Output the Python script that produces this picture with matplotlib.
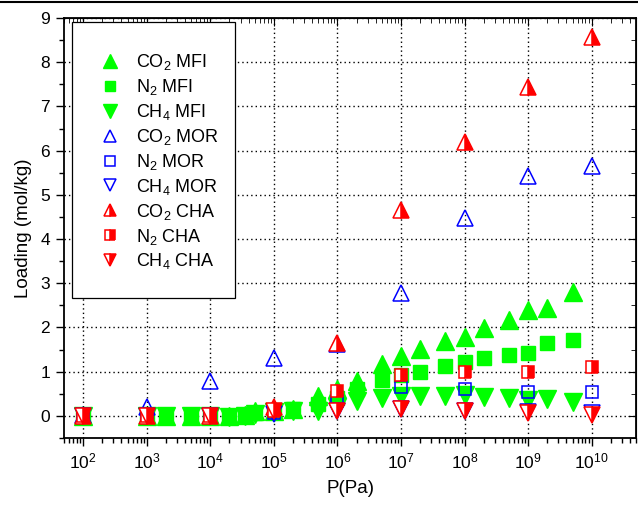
import matplotlib
matplotlib.use("Agg")
import matplotlib.pyplot as plt
from matplotlib.lines import Line2D
from matplotlib.patches import Rectangle

plt.rcParams["font.family"] = ["Liberation Sans", "DejaVu Sans"]

# MFI pressures (Pa) and loadings (mol/kg)
p_mfi = [1e2, 1e3, 2e3, 5e3, 1e4, 2e4, 3.5e4, 5e4, 1e5, 2e5, 5e5, 1e6, 2e6,
         5e6, 1e7, 2e7, 5e7, 1e8, 2e8, 5e8, 1e9, 2e9, 5e9]
co2_mfi = [0.0, 0.0, 0.0, 0.0, 0.0, 0.0, 0.03, 0.1, 0.12, 0.16, 0.45, 0.6, 0.78,
           1.17, 1.36, 1.52, 1.7, 1.78, 1.98, 2.16, 2.4, 2.43, 2.8]
n2_mfi = [0.0, 0.0, 0.0, 0.0, 0.0, 0.0, 0.02, 0.06, 0.1, 0.15, 0.27, 0.4, 0.6,
          0.81, 0.92, 0.99, 1.13, 1.23, 1.32, 1.38, 1.42, 1.65, 1.72]
ch4_mfi = [0.0, 0.0, 0.0, 0.0, 0.0, -0.02, 0.0, 0.05, 0.08, 0.12, 0.12, 0.2, 0.33,
           0.4, 0.46, 0.46, 0.45, 0.48, 0.43, 0.41, 0.35, 0.38, 0.32]

# MOR and CHA pressures (Pa)
p_dec = [1e2, 1e3, 1e4, 1e5, 1e6, 1e7, 1e8, 1e9, 1e10]
co2_mor = [0.02, 0.2, 0.8, 1.32, 1.63, 2.78, 4.48, 5.42, 5.65]
n2_mor = [0.0, 0.0, 0.0, 0.06, 0.33, 0.65, 0.6, 0.55, 0.55]
ch4_mor = [0.0, 0.0, 0.0, 0.05, 0.12, 0.15, 0.12, 0.08, 0.06]
co2_cha = [0.0, 0.0, 0.0, 0.2, 1.65, 4.65, 6.2, 7.45, 8.58]
n2_cha = [0.0, 0.0, 0.0, 0.12, 0.56, 0.93, 0.99, 0.99, 1.1]
ch4_cha = [0.0, 0.0, 0.0, 0.1, 0.1, 0.16, 0.11, 0.06, 0.03]

fig = plt.figure(figsize=(6.38, 5.05), dpi=100)
ax = fig.add_axes([0.1003, 0.1327, 0.8967, 0.8317])

green, blue, red = "#00ff00", "#0000ff", "#ff0000"

ax.plot(p_mfi, co2_mfi, ls="none", marker="^", ms=13, mfc=green, mec=green, label="CO$_\\mathregular{2}$ MFI")
ax.plot(p_mfi, n2_mfi, ls="none", marker="s", ms=10, mfc=green, mec=green, label="N$_\\mathregular{2}$ MFI")
ax.plot(p_mfi, ch4_mfi, ls="none", marker="v", ms=13, mfc=green, mec=green, label="CH$_\\mathregular{4}$ MFI")
ax.plot(p_dec, co2_mor, ls="none", marker="^", ms=12, mfc="none", mec=blue, mew=1.1, label="CO$_\\mathregular{2}$ MOR")
ax.plot(p_dec, n2_mor, ls="none", marker="s", ms=9, mfc="none", mec=blue, mew=1.1, label="N$_\\mathregular{2}$ MOR")
ax.plot(p_dec, ch4_mor, ls="none", marker="v", ms=12, mfc="none", mec=blue, mew=1.1, label="CH$_\\mathregular{4}$ MOR")
ax.plot(p_dec, co2_cha, ls="none", marker="^", ms=12, fillstyle="right", mfc=red, mfcalt="white", mec=red, mew=1.1, label="CO$_\\mathregular{2}$ CHA")
ax.plot(p_dec, n2_cha, ls="none", marker="s", ms=9, fillstyle="right", mfc=red, mfcalt="white", mec=red, mew=1.1, label="N$_\\mathregular{2}$ CHA")
ax.plot(p_dec, ch4_cha, ls="none", marker="v", ms=12, fillstyle="right", mfc=red, mfcalt="white", mec=red, mew=1.1, label="CH$_\\mathregular{4}$ CHA")

ax.set_xscale("log")
ax.set_xlim(50, 5e10)
ax.set_ylim(-0.5, 9)
ax.set_xticks([10.0 ** k for k in range(2, 11)])
ax.set_yticks(range(0, 10))
ax.set_yticks([i + 0.5 for i in range(-1, 9)], minor=True)
ax.grid(True, which="major", color="black", ls=(0, (1, 2.2)), lw=1.0)
ax.set_axisbelow(True)

ax.tick_params(which="major", direction="out", length=6, width=1, labelsize=12.5, pad=4)
ax.tick_params(which="minor", direction="out", length=3.5, width=1)
for s in ax.spines.values():
    s.set_linewidth(1.3)

top = ax.secondary_xaxis("top")
top.tick_params(which="both", direction="in", labeltop=False)
top.tick_params(which="major", length=6)
top.tick_params(which="minor", length=3.5)
right = ax.secondary_yaxis("right")
right.set_yticks(range(0, 10))
right.set_yticks([i + 0.5 for i in range(-1, 9)], minor=True)
right.tick_params(which="both", direction="in", labelright=False)
right.tick_params(which="major", length=6)
right.tick_params(which="minor", length=3.5)

ax.set_xlabel("P(Pa)", fontsize=13.5, labelpad=6)
ax.set_ylabel("Loading (mol/kg)", fontsize=13.5, labelpad=6)

# legend box drawn by hand, entries placed inside it
ax.add_patch(Rectangle((0.014, 0.333), 0.285, 0.6575, transform=ax.transAxes,
                       facecolor="white", edgecolor="black", lw=0.9, zorder=3))
leg = ax.legend(loc="upper left", bbox_to_anchor=(0.058, 0.918), borderaxespad=0,
                fontsize=13, markerscale=0.75, borderpad=0, labelspacing=0.27,
                handlelength=1.4, handletextpad=0.75, frameon=False)
leg.set_zorder(4)

fig.add_artist(Line2D([0, 1], [0.997, 0.997], color="black", lw=1.5, transform=fig.transFigure))

fig.savefig("out.png", dpi=100)
